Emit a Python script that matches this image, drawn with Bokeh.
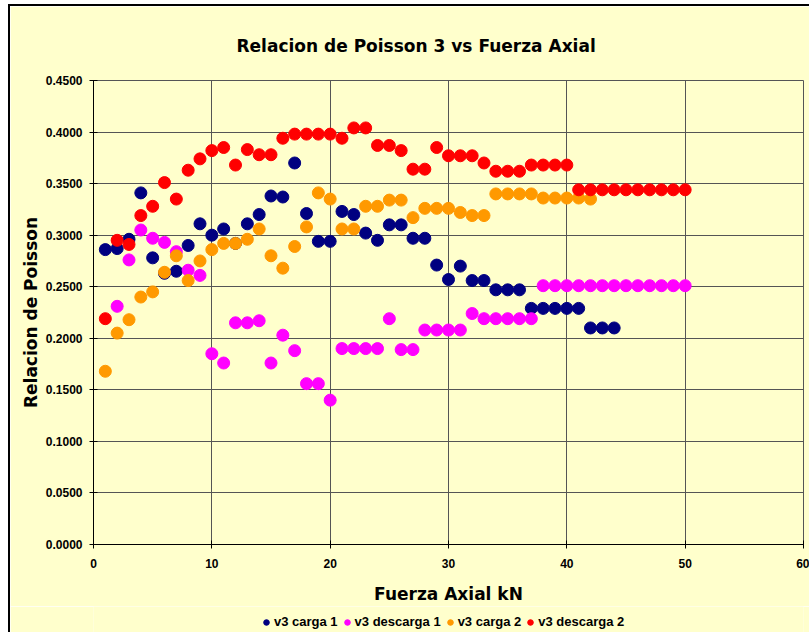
from bokeh.plotting import figure
from bokeh.layouts import column
from bokeh.models import (FixedTicker, NumeralTickFormatter, Legend, LegendItem,
                          Range1d, ColumnDataSource)
from bokeh.embed import file_html
from bokeh.resources import INLINE

# ---------------- data ----------------
title_text = "Relacion de Poisson 3 vs Fuerza Axial"
x_label = "Fuerza Axial kN"
y_label = "Relacion de Poisson"
x_ticks = [0, 10, 20, 30, 40, 50, 60]
y_ticks = [0.0, 0.05, 0.10, 0.15, 0.20, 0.25, 0.30, 0.35, 0.40, 0.45]

carga1_x = list(range(1, 45))
carga1_y = [0.286, 0.287, 0.296, 0.341, 0.278, 0.263, 0.265, 0.290, 0.311, 0.300,
            0.306, 0.292, 0.311, 0.320, 0.338, 0.337, 0.370, 0.321, 0.294, 0.294,
            0.323, 0.320, 0.302, 0.295, 0.310, 0.310, 0.297, 0.297, 0.271, 0.257,
            0.270, 0.256, 0.256, 0.247, 0.247, 0.247, 0.229, 0.229, 0.229, 0.229,
            0.229, 0.210, 0.210, 0.210]

descarga1_x = list(range(2, 51))
descarga1_y = [0.231, 0.276, 0.305, 0.297, 0.293, 0.284, 0.266, 0.261, 0.185,
               0.176, 0.215, 0.215, 0.217, 0.176, 0.203, 0.188, 0.156, 0.156, 0.140,
               0.190, 0.190, 0.190, 0.190, 0.219, 0.189, 0.189, 0.208, 0.208, 0.208,
               0.208, 0.224, 0.219, 0.219, 0.219, 0.219, 0.219, 0.251, 0.251, 0.251,
               0.251, 0.251, 0.251, 0.251, 0.251, 0.251, 0.251, 0.251, 0.251, 0.251]

carga2_x = list(range(1, 43))
carga2_y = [0.168, 0.205, 0.218, 0.240, 0.245, 0.264, 0.280, 0.256, 0.275, 0.286,
            0.292, 0.292, 0.296, 0.306, 0.280, 0.268, 0.289, 0.308, 0.341, 0.335,
            0.306, 0.306, 0.328, 0.328, 0.334, 0.334, 0.317, 0.326, 0.326, 0.326,
            0.322, 0.319, 0.319, 0.340, 0.340, 0.340, 0.340, 0.336, 0.336, 0.336,
            0.336, 0.335]

descarga2_x = list(range(1, 51))
descarga2_y = [0.219, 0.295, 0.291, 0.319, 0.328, 0.351, 0.335, 0.363, 0.374, 0.382,
               0.385, 0.368, 0.383, 0.378, 0.378, 0.394, 0.398, 0.398, 0.398, 0.398,
               0.394, 0.404, 0.404, 0.387, 0.387, 0.382, 0.364, 0.364, 0.385, 0.377,
               0.377, 0.377, 0.370, 0.362, 0.362, 0.362, 0.368, 0.368, 0.368, 0.368,
               0.344, 0.344, 0.344, 0.344, 0.344, 0.344, 0.344, 0.344, 0.344, 0.344]

series_names = ["v3 carga 1", "v3 descarga 1", "v3 carga 2", "v3 descarga 2"]
series_x = [carga1_x, descarga1_x, carga2_x, descarga2_x]
series_y = [carga1_y, descarga1_y, carga2_y, descarga2_y]
series_colors = ["#000080", "#FF00FF", "#FF9900", "#FF0000"]

# ---------------- main figure ----------------
BG = "#FFFFCC"
GRID = "#555555"
p = figure(width=799, height=600, output_backend="svg", toolbar_location=None,
           x_range=Range1d(0, 60), y_range=Range1d(0, 0.45),
           min_border_left=83, min_border_right=6, min_border_top=74,
           min_border_bottom=61)

p.background_fill_color = BG
p.border_fill_color = BG
p.outline_line_color = GRID

p.title.text = title_text
p.title.align = "left"
p.title.offset = 143
p.title.vertical_align = "bottom"
p.title.standoff = 50
p.title.text_font = "DejaVu Sans"
p.title.text_font_size = "17px"
p.title.text_font_style = "bold"
p.title.text_color = "black"

p.xaxis.ticker = FixedTicker(ticks=x_ticks)
p.yaxis.ticker = FixedTicker(ticks=y_ticks)
p.yaxis.formatter = NumeralTickFormatter(format="0.0000")
for ax in (p.xaxis[0], p.yaxis[0]):
    ax.axis_line_color = "black"
    ax.major_tick_line_color = "black"
    ax.major_tick_in = 4
    ax.major_tick_out = 4
    ax.minor_tick_line_color = None
    ax.major_label_text_font = "Liberation Sans"
    ax.major_label_text_font_style = "bold"
    ax.major_label_text_font_size = "12px"
    ax.major_label_text_color = "black"
    ax.axis_label_text_font = "DejaVu Sans"
    ax.axis_label_text_font_style = "bold"
    ax.axis_label_text_font_size = "17px"
    ax.axis_label_text_color = "black"
p.xaxis.axis_label = x_label
p.yaxis.axis_label = y_label
p.xaxis.major_label_standoff = 10
p.yaxis.major_label_standoff = 7
p.xaxis.axis_label_standoff = 13
p.yaxis.axis_label_standoff = 2

p.xgrid.ticker = FixedTicker(ticks=x_ticks)
p.ygrid.ticker = FixedTicker(ticks=y_ticks)
p.xgrid.grid_line_color = GRID
p.ygrid.grid_line_color = GRID

# ---------------- legend strip (ranges chosen so no data point shows) ----------------
p2 = figure(width=799, height=26, output_backend="svg", toolbar_location=None,
            x_range=Range1d(-20, -10), y_range=Range1d(-20, -10),
            x_axis_type=None, y_axis_type=None,
            min_border=0, min_border_left=0, min_border_right=0,
            min_border_top=0, min_border_bottom=0)
p2.background_fill_color = BG
p2.border_fill_color = BG
p2.outline_line_color = None
p2.grid.visible = False

items = []
for name, xs, ys, col in zip(series_names, series_x, series_y, series_colors):
    src = ColumnDataSource(data=dict(x=xs, y=ys))
    p.scatter("x", "y", source=src, marker="circle", size=12,
              fill_color=col, line_color=col)
    proxy = p2.scatter("x", "y", source=src, marker="circle", size=12,
                       fill_color=col, line_color=col)
    items.append(LegendItem(label=name, renderers=[proxy]))

legend = Legend(items=items, orientation="horizontal", location=(166, 3))
legend.background_fill_alpha = 0
legend.border_line_color = None
legend.margin = 0
legend.padding = 2
legend.spacing = 2
legend.glyph_width = 14
legend.glyph_height = 14
legend.label_height = 14
legend.label_standoff = 1
legend.label_text_font = "Liberation Sans"
legend.label_text_font_style = "bold"
legend.label_text_font_size = "13px"
legend.label_text_color = "black"
p2.add_layout(legend, "center")

layout = column(p, p2, spacing=0, margin=(4, 0, 0, 8),
                styles={"border-left": "2px solid black",
                        "border-top": "2px solid black"})

open("out.html", "w").write(file_html(layout, INLINE))
